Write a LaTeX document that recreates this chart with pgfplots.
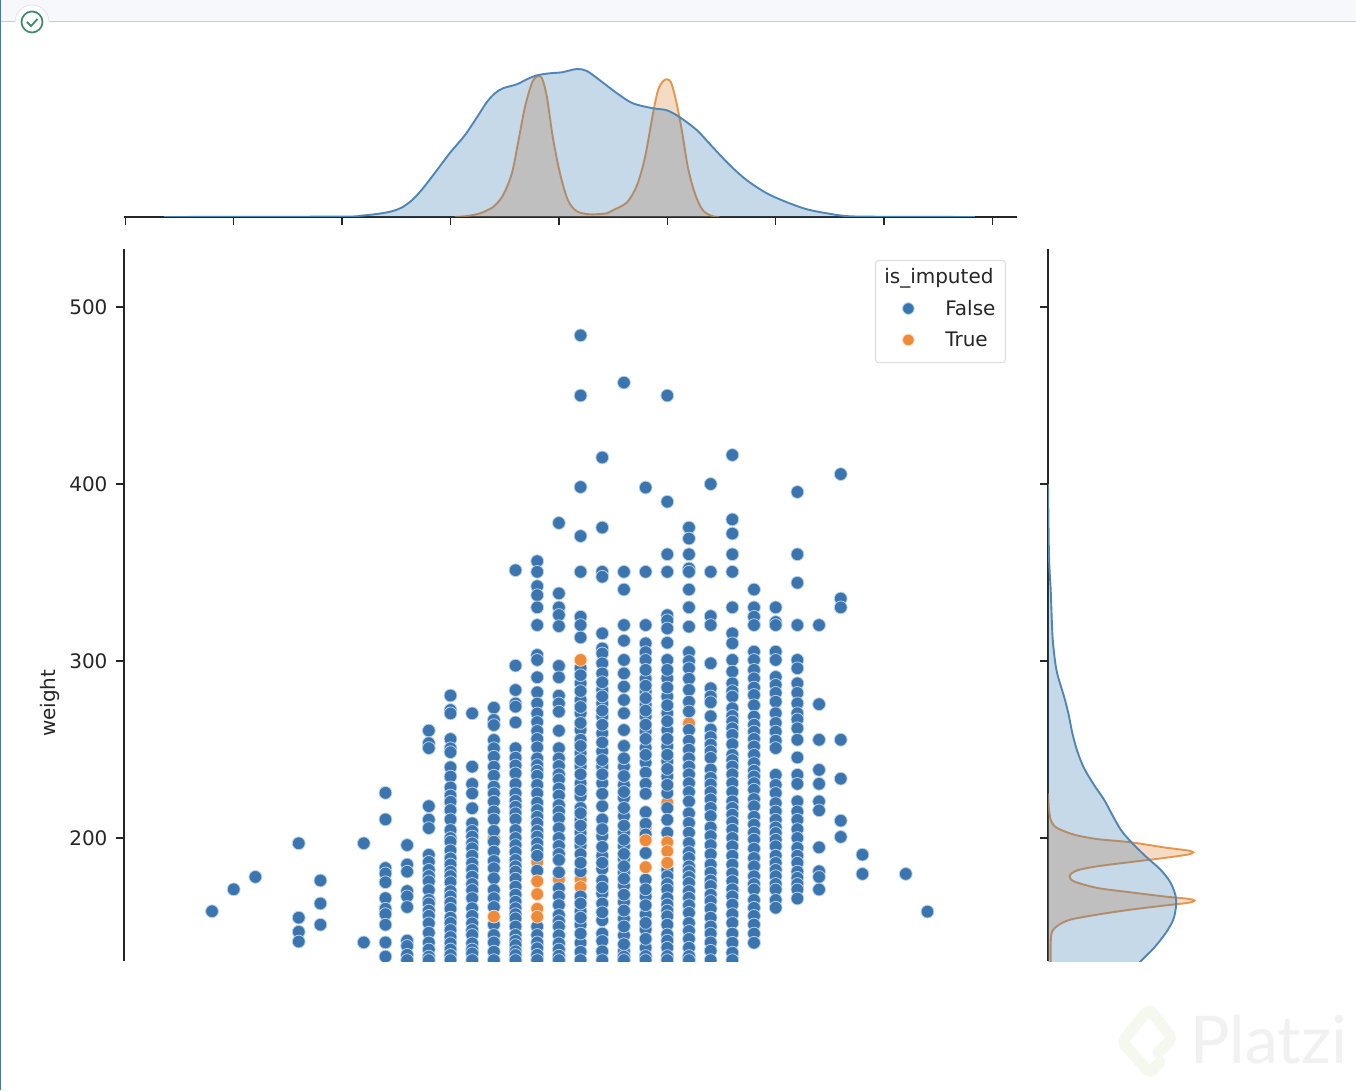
\documentclass[border=0pt]{standalone}
\usepackage{fontspec}
\setmainfont{DejaVu Sans}
\newfontfamily\wmfont{Lato}
\usepackage{pgfplots}
\pgfplotsset{compat=1.18}
\definecolor{ptblue}{HTML}{3A75B0}
\definecolor{ptorange}{HTML}{EE8A38}
\definecolor{halo}{HTML}{B9D1E8}
\definecolor{halor}{HTML}{FBDDC4}
\definecolor{kblue}{HTML}{2A74B0}
\definecolor{kbline}{HTML}{4F86B6}
\definecolor{korange}{HTML}{E1812C}
\definecolor{ink}{HTML}{262626}
\definecolor{barbg}{HTML}{F7F8FB}
\definecolor{barline}{HTML}{C8CBD6}
\definecolor{tabline}{HTML}{E0E3EA}
\definecolor{check}{HTML}{3F8A6D}
\definecolor{leftbar}{HTML}{3A7BBF}
\definecolor{wmgrey}{HTML}{F1F1F1}
\definecolor{wmgreen}{HTML}{F4F8EE}
\definecolor{legline}{HTML}{DEDEDE}
\pgfplotsset{
  base/.style={scale only axis, clip=true, major tick length=8pt,
    tick style={ink,line width=1.3pt},
    every tick label/.append style={font=\fontsize{20}{24}\selectfont, text=ink},
    /pgf/number format/assume math mode=true},
  plain lines/.style={tick align=outside, x axis line style={-,ink,line width=1.3pt}, y axis line style={-,ink,line width=1.3pt}},
  pblue/.style={only marks, mark=*, mark size=6.4, mark options={fill=ptblue, draw=halo, line width=0.8pt}},
  porange/.style={only marks, mark=*, mark size=6.4, mark options={fill=ptorange, draw=halor, line width=0.8pt}},
  kfillb/.style={fill=kblue, fill opacity=0.27, draw=none, smooth, tension=0.5, forget plot},
  kfillo/.style={fill=korange, fill opacity=0.28, draw=none, smooth, tension=0.5, forget plot},
  klineb/.style={draw=kbline, line width=1.9pt, smooth, tension=0.5, forget plot, no marks},
  klineo/.style={draw=korange, draw opacity=0.8, line width=1.9pt, smooth, tension=0.5, forget plot, no marks},
  legblue/.style={legend image code/.code={\path (-24.35pt,0pt) (34.35pt,0pt);
     \path[mark=*, mark size=5.8pt, mark options={fill=ptblue, draw=halo, line width=0.8pt}] plot coordinates {(0pt,0pt)};}},
  legorange/.style={legend image code/.code={\path (-24.35pt,0pt) (34.35pt,0pt) (0pt,-16pt);
     \path[mark=*, mark size=5.8pt, mark options={fill=ptorange, draw=halor, line width=0.8pt}] plot coordinates {(0pt,0pt)};}},
}
\begin{document}
\begin{tikzpicture}[x=1pt,y=1pt]
\path[use as bounding box, fill=white] (0,0) rectangle (1356,1090);
% window furniture
\fill[barbg] (0,1068) rectangle (1356,1090);
\draw[barline, line width=1pt] (0,1068) -- (1356,1068);
\fill[white] (15,1068) arc[start angle=180, end angle=0, radius=17] -- cycle;
\fill[white] (15,1068) rectangle (49,1060);
\draw[tabline, line width=0.8pt] (15,1068) arc[start angle=180, end angle=0, radius=17];
\draw[check, line width=1.7pt] (32,1068) circle[radius=10.5];
\draw[check, line width=1.8pt] (27,1068) -- (31,1064) -- (37.5,1071);
\fill[leftbar] (0,0) rectangle (1.3,1090);
% watermark
\draw[wmgreen, line width=11pt, rounded corners=5pt, line cap=round] (1158,37) -- (1172,52) -- (1149,81) -- (1122,48) -- (1150,17) -- (1160,28);
\node[anchor=base west, inner sep=0pt, text=wmgrey, font=\wmfont\fontsize{66}{72}\selectfont] at (1190,27) {Platzi};

% top marginal
\begin{axis}[base, at={(124pt,873pt)}, anchor=south west, width=893pt, height=160pt,
  xmin=49.94, xmax=91.13, ymin=0, ymax=0.08, axis x line=bottom, axis y line=none, plain lines,
  xtick={50,55,60,65,70,75,80,85,90}, xticklabels={}]
\addplot[kfillo] coordinates {(65.2,0)(65.76,0.0005)(66.36,0.00185)(66.96,0.005)(67.42,0.01085)(67.83,0.02185)(68.11,0.03685)(68.43,0.05485)(68.75,0.06685)(68.99,0.07035)(69.22,0.06935)(69.45,0.05985)(69.72,0.03985)(70.05,0.02185)(70.42,0.00835)(70.83,0.00285)(71.43,0.00135)(72.21,0.00185)(72.49,0.00335)(73.14,0.00735)(73.60,0.01585)(73.97,0.02985)(74.34,0.05185)(74.57,0.06335)(74.80,0.06785)(74.98,0.06885)(75.17,0.06735)(75.40,0.05835)(75.67,0.04335)(75.95,0.02485)(76.27,0.01185)(76.64,0.00335)(77.10,0.00035)(77.4,0)};
\addplot[klineo] coordinates {(65.2,0)(65.76,0.0005)(66.36,0.00185)(66.96,0.005)(67.42,0.01085)(67.83,0.02185)(68.11,0.03685)(68.43,0.05485)(68.75,0.06685)(68.99,0.07035)(69.22,0.06935)(69.45,0.05985)(69.72,0.03985)(70.05,0.02185)(70.42,0.00835)(70.83,0.00285)(71.43,0.00135)(72.21,0.00185)(72.49,0.00335)(73.14,0.00735)(73.60,0.01585)(73.97,0.02985)(74.34,0.05185)(74.57,0.06335)(74.80,0.06785)(74.98,0.06885)(75.17,0.06735)(75.40,0.05835)(75.67,0.04335)(75.95,0.02485)(76.27,0.01185)(76.64,0.00335)(77.10,0.00035)(77.4,0)};
\addplot[kfillb] coordinates {(51.78,0)(59.9,0.0002)(60.82,0.0006)(61.74,0.0017)(62.34,0.0030)(62.80,0.0050)(63.27,0.00885)(63.73,0.01435)(64.37,0.02335)(64.97,0.032)(65.66,0.04085)(66.22,0.04985)(66.68,0.0575)(67.05,0.06185)(67.42,0.06435)(68.06,0.06635)(68.52,0.06885)(68.99,0.07085)(69.58,0.07185)(70.14,0.07235)(70.83,0.074)(71.29,0.073)(71.89,0.06835)(72.68,0.06185)(73.41,0.05685)(74.34,0.05435)(74.98,0.05335)(75.58,0.04985)(76.37,0.04335)(77.10,0.03485)(77.89,0.02585)(78.67,0.01835)(79.59,0.01185)(80.52,0.00735)(81.44,0.00385)(82.36,0.00185)(83.42,0.00035)(85.73,0.0001)(89.19,0)};
\addplot[klineb] coordinates {(51.78,0)(59.9,0.0002)(60.82,0.0006)(61.74,0.0017)(62.34,0.0030)(62.80,0.0050)(63.27,0.00885)(63.73,0.01435)(64.37,0.02335)(64.97,0.032)(65.66,0.04085)(66.22,0.04985)(66.68,0.0575)(67.05,0.06185)(67.42,0.06435)(68.06,0.06635)(68.52,0.06885)(68.99,0.07085)(69.58,0.07185)(70.14,0.07235)(70.83,0.074)(71.29,0.073)(71.89,0.06835)(72.68,0.06185)(73.41,0.05685)(74.34,0.05435)(74.98,0.05335)(75.58,0.04985)(76.37,0.04335)(77.10,0.03485)(77.89,0.02585)(78.67,0.01835)(79.59,0.01185)(80.52,0.00735)(81.44,0.00385)(82.36,0.00185)(83.42,0.00035)(85.73,0.0001)(89.19,0)};
\end{axis}

% right marginal
\begin{axis}[base, at={(1048pt,129pt)}, anchor=south west, width=190pt, height=712pt,
  xmin=0, xmax=0.019, ymin=130.5, ymax=532.8, axis x line=none, axis y line=left, plain lines,
  ytick={200,300,400,500}, yticklabels={}]
\addplot[kfillo] coordinates {(0,225)(0.0001,216)(0.00033,209.4)(0.00093,205.6)(0.0026,201.9)(0.00493,199.4)(0.00827,197.6)(0.0116,194.7)(0.01393,193)(0.01453,191.9)(0.01393,190.6)(0.0116,188.7)(0.00827,186.4)(0.00493,184)(0.00293,181.7)(0.00217,178.7)(0.0026,175.5)(0.00493,171.8)(0.00827,169.3)(0.0116,167)(0.01393,165.7)(0.01467,164.6)(0.01393,163.3)(0.0116,161.8)(0.00827,159.5)(0.00493,156.7)(0.00227,153.9)(0.0011,151)(0.00043,147.3)(0.00027,140.7)(0.00027,125)(0,125)};
\addplot[klineo] coordinates {(0,225)(0.0001,216)(0.00033,209.4)(0.00093,205.6)(0.0026,201.9)(0.00493,199.4)(0.00827,197.6)(0.0116,194.7)(0.01393,193)(0.01453,191.9)(0.01393,190.6)(0.0116,188.7)(0.00827,186.4)(0.00493,184)(0.00293,181.7)(0.00217,178.7)(0.0026,175.5)(0.00493,171.8)(0.00827,169.3)(0.0116,167)(0.01393,165.7)(0.01467,164.6)(0.01393,163.3)(0.0116,161.8)(0.00827,159.5)(0.00493,156.7)(0.00227,153.9)(0.0011,151)(0.00043,147.3)(0.00027,140.7)(0.00027,125)};
\addplot[kfillb] coordinates {(0,400)(0.0001,359)(0.00027,340)(0.00043,316)(0.0006,304.7)(0.0009,293.4)(0.0017,278)(0.0021,268.7)(0.00243,259.3)(0.00293,249)(0.0036,239.5)(0.0046,230)(0.0056,221.7)(0.00643,213)(0.00727,204.7)(0.00827,198)(0.00977,189.6)(0.01127,182)(0.01227,174.6)(0.01277,167)(0.0128,161.4)(0.01253,153.9)(0.01177,146.3)(0.0106,137.9)(0.00943,131.3)(0.00827,124.7)(0,124.7)};
\addplot[klineb] coordinates {(0,400)(0.0001,359)(0.00027,340)(0.00043,316)(0.0006,304.7)(0.0009,293.4)(0.0017,278)(0.0021,268.7)(0.00243,259.3)(0.00293,249)(0.0036,239.5)(0.0046,230)(0.0056,221.7)(0.00643,213)(0.00727,204.7)(0.00827,198)(0.00977,189.6)(0.01127,182)(0.01227,174.6)(0.01277,167)(0.0128,161.4)(0.01253,153.9)(0.01177,146.3)(0.0106,137.9)(0.00943,131.3)(0.00827,124.7)};
\end{axis}

% joint scatter
\begin{axis}[base, at={(124pt,129pt)}, anchor=south west, width=893pt, height=712pt,
  xmin=49.94, xmax=91.13, ymin=130.5, ymax=532.8, axis x line=none, axis y line=left, plain lines,
  clip marker paths=true,
  ytick={200,300,400,500}, yticklabel style={xshift=-5pt},
  ylabel={weight}, ylabel style={font=\fontsize{20}{24}\selectfont, text=ink, at={(axis description cs:-0.0,0.362)}, anchor=south, yshift=61pt},
  legend cell align=left,
  legend style={at={(0.9877,0.9846)}, anchor=north east, draw=legline, line width=1.1pt, rounded corners=3pt,
    font=\fontsize{20}{24}\selectfont, text=ink, row sep=11pt, inner xsep=8pt, inner ysep=6pt},
]
% imputed points that lie under the others
\addplot[porange, forget plot] coordinates {(69,186.3)(70,176.5)(71,176.5)(71,172.2)(74,205.6)(75,220)(76,264.8)(67,200)(70,218)};
\addplot[pblue, forget plot] coordinates {
(54,158.6)(55,171)(56,178)
(58,197)(58,155)(58,147)(58,141.5)
(59,176)(59,163)(59,151)
(61,197)(61,141)
(62,225.5)(62,210.5)(62,183)(62,180)(62,175)(62,166)(62,160)(62,157)(62,151)(62,141)(62,133)
(63,196)(63,185)(63,181)(63,170)(63,167)(63,161)(63,142)(63,139)(63,134)(63,131)
(64,260.7)(64,253.6)(64,250.8)(64,218)(64,210.4)(64,205.6)(64,190.5)(64,186.5)(64,182)(64,178.5)(64,175.5)(64,170.6)(64,165)(64,163)(64,159)(64,156)(64,151.8)(64,146.5)(64,141)(64,137)(64,133)(64,131)
(65,280.5)(65,272.3)(65,270.4)(65,255.9)(65,250.7)(65,248.5)(65,240)(65,234.7)(65,228.6)(65,224)(65,220.5)(65,215.8)(65,210.5)(65,204.5)(65,200)(65,197.9)(65,193)(65,188.5)(65,185)(65,181)(65,178.5)(65,175)(65,170)(65,167)(65,163.5)(65,160)(65,155)(65,152)(65,148)(65,144)(65,140.5)(65,137)(65,133.9)(65,131)
(66,270.4)(66,240.3)(66,230.5)(66,225.2)(66,216.8)(66,208.3)(66,204)(66,200.8)(66,197)(66,194.2)(66,190)(66,185.7)(66,182)(66,178.2)(66,174)(66,170.6)(66,166)(66,160.3)(66,156)(66,151.8)(66,148)(66,145.2)(66,140.5)(66,137)(66,134.8)(66,131)
(67,273.6)(67,266.7)(67,263.8)(67,255.4)(67,250.7)(67,245.9)(67,240.3)(67,235.2)(67,229)(67,225.2)(67,220.5)(67,215)(67,210.5)(67,204)(67,197.9)(67,192.3)(67,187)(67,182.9)(67,177.2)(67,170.6)(67,166)(67,161)(67,151)(67,145.2)(67,141)(67,135.8)(67,131)
(68,351.3)(68,297.4)(68,283.6)(68,276)(68,274.2)(68,265.3)(68,250.7)(68,245.4)(68,241)(68,236.5)(68,230.5)(68,225.2)(68,221)(68,217.7)(68,214)(68,210.5)(68,204.5)(68,200)(68,196)(68,192)(68,187.6)(68,184)(68,181)(68,177)(68,172.5)(68,168)(68,164)(68,160.3)(68,157)(68,154.6)(68,150)(68,145.2)(68,142)(68,139.5)(68,136)(68,133.9)(68,131)
(69,356.4)(69,350.4)(69,342.3)(69,337.2)(69,330.3)(69,320.3)(69,303.4)(69,300.6)(69,290.8)(69,282.3)(69,276)(69,270.4)(69,265.5)(69,260.5)(69,256)(69,251.2)(69,245)(69,241.2)(69,238)(69,235.2)(69,230)(69,225.2)(69,220)(69,215.8)(69,212)(69,208.3)(69,204)(69,200.8)(69,197)(69,193.2)(69,190)(69,181.5)(69,150)(69,145.2)(69,141)(69,137.7)(69,134)(69,131)
(70,378)(70,338.2)(70,330.3)(70,326)(70,319.7)(70,297.2)(70,290.8)(70,280.4)(70,276)(70,271.4)(70,260.6)(70,250.7)(70,245)(70,240.7)(70,236)(70,233.1)(70,228)(70,224)(70,218.6)(70,215)(70,211.1)(70,205.5)(70,200)(70,195.5)(70,191)(70,187.6)(70,180.6)(70,171.6)(70,167)(70,162.1)(70,156.5)(70,153)(70,149.9)(70,145)(70,140.5)(70,137)(70,133.5)(70,131)
(71,484)(71,450)(71,398.3)(71,370.6)(71,350.4)(71,325)(71,320.3)(71,313.3)(71,296)(71,287.4)(71,278)(71,270.5)(71,261)(71,255.5)(71,247.9)(71,240.4)(71,231)(71,223.5)(71,217)(71,210.3)(71,203)(71,195.6)(71,190.9)(71,181.2)(71,167)(71,158.6)(71,151)(71,140.8)(71,135.7)(71,292)(71,283)(71,274)(71,265)(71,252)(71,244)(71,236)(71,227)(71,214)(71,207)(71,199)(71,186)(71,163)(71,155)(71,146)(71,131)
(72,415)(72,375.4)(72,350.4)(72,347.6)(72,315.6)(72,307.1)(72,304.3)(72,298.7)(72,293)(72,283.6)(72,276)(72,268.6)(72,259.2)(72,248.9)(72,240.4)(72,231)(72,218)(72,210.5)(72,201)(72,190)(72,182.5)(72,176)(72,168.6)(72,163)(72,153.5)(72,146)(72,141.8)(72,254)(72,244)(72,236)(72,225)(72,205)(72,195)(72,186)(72,172)(72,158)(72,136)(72,288)(72,280)(72,272)(72,264)(72,131)
(73,457.3)(73,350.4)(73,340.4)(73,320.3)(73,311.5)(73,300.6)(73,293)(73,285.5)(73,278)(73,270.5)(73,261)(73,252)(73,240.4)(73,230)(73,222.7)(73,212.4)(73,203)(73,195.3)(73,188)(73,180.4)(73,173)(73,163.8)(73,154.5)(73,145)(73,136)(73,245)(73,226)(73,217)(73,207)(73,199)(73,191)(73,184)(73,177)(73,168)(73,159)(73,150)(73,140)(73,235)(73,133)(73,131)
(74,398)(74,350.4)(74,320.3)(74,310)(74,305)(74,300.6)(74,290)(74,282.8)(74,275.3)(74,268.7)(74,260.3)(74,251)(74,242.6)(74,236.9)(74,230.6)(74,225)(74,214.6)(74,208)(74,202)(74,191.5)(74,176.5)(74,167)(74,156.8)(74,148.3)(74,138)(74,133.3)(74,295)(74,286)(74,279)(74,272)(74,264)(74,256)(74,247)(74,171)(74,162)(74,152)(74,143)(74,131)
(75,450)(75,390)(75,360.3)(75,350.4)(75,325.9)(75,323)(75,318.4)(75,310.3)(75,300.6)(75,290.2)(75,280)(75,270.5)(75,261)(75,251.7)(75,243.3)(75,234.8)(75,225.4)(75,216.9)(75,210.3)(75,203)(75,182)(75,178.4)(75,174)(75,170.9)(75,166)(75,162.4)(75,159)(75,155.8)(75,151)(75,145.5)(75,142)(75,138)(75,133.3)(75,295)(75,285)(75,275)(75,266)(75,256)(75,247)(75,239)(75,230)(75,131)
(76,375.4)(76,369.2)(76,360.3)(76,352.3)(76,350.4)(76,340.4)(76,330.3)(76,319.4)(76,305)(76,300)(76,295.9)(76,290)(76,283.7)(76,277)(76,271.5)(76,261.1)(76,255)(76,249.9)(76,245)(76,240.4)(76,236)(76,231)(76,226)(76,220.7)(76,214)(76,208.5)(76,203)(76,197.2)(76,192)(76,188.7)(76,184)(76,181.2)(76,178)(76,174.6)(76,170)(76,166.2)(76,162)(76,157.7)(76,152)(76,147.5)(76,143)(76,138)(76,133.3)(76,131)
(77,400)(77,350.4)(77,325.4)(77,320.3)(77,298.7)(77,284.6)(77,280)(77,276.7)(77,268.8)(77,261.3)(77,257)(77,252.8)(77,249)(77,245.3)(77,238.7)(77,234)(77,230.3)(77,226)(77,221.8)(77,217)(77,212.4)(77,206)(77,201.1)(77,196)(77,190.8)(77,185)(77,180.4)(77,176)(77,172.9)(77,168)(77,164.4)(77,160)(77,155)(77,150)(77,146)(77,141)(77,136.3)(77,131)
(78,416.4)(78,380)(78,372)(78,360.3)(78,350.4)(78,330.3)(78,315.6)(78,310)(78,300.6)(78,294)(78,287.4)(78,283)(78,279.9)(78,273.3)(78,269)(78,265.8)(78,262)(78,258.3)(78,253)(78,247)(78,244)(78,240.4)(78,236)(78,231)(78,226)(78,220.7)(78,217)(78,213.2)(78,209)(78,204.7)(78,200)(78,195.3)(78,190)(78,185)(78,180)(78,175.6)(78,171)(78,167)(78,162.4)(78,157)(78,152)(78,146)(78,140.8)(78,135.2)(78,131)
(79,340.4)(79,330.3)(79,325)(79,320.3)(79,305.3)(79,300.6)(79,295)(79,290.2)(79,285)(79,280.8)(79,275)(79,268.6)(79,264)(79,260.1)(79,256)(79,251.7)(79,247)(79,242.3)(79,238)(79,234.8)(79,231)(79,227.3)(79,222)(79,217.9)(79,212)(79,207.6)(79,203)(79,199.1)(79,194)(79,188.7)(79,184)(79,178.4)(79,174)(79,170.9)(79,165)(79,160.6)(79,156)(79,151.1)(79,146)(79,140.8)
(80,330.3)(80,322)(80,320.3)(80,305.3)(80,300.6)(80,291)(80,286.5)(80,282)(80,277)(80,270.5)(80,265)(80,260.1)(80,255)(80,250.8)(80,235.7)(80,230)(80,225.4)(80,219.7)(80,215)(80,210.3)(80,206)(80,202.8)(80,199)(80,195.3)(80,190)(80,185.9)(80,182)(80,178.4)(80,174)(80,170.9)(80,165)(80,160.6)
(81,395.5)(81,360.3)(81,344.2)(81,320.3)(81,300.6)(81,295.9)(81,287.4)(81,282)(81,276.1)(81,270.5)(81,267)(81,262)(81,255.5)(81,245.5)(81,235.7)(81,230.6)(81,220.7)(81,215)(81,210.3)(81,205)(81,200)(81,194.4)(81,190)(81,186)(81,181)(81,177.5)(81,174)(81,170.9)(81,165.8)
(82,320.3)(82,275.6)(82,255.5)(82,238.5)(82,230.6)(82,220.7)(82,215.6)(82,194.7)(82,181.2)(82,178)(82,170.9)
(83,405.6)(83,335.3)(83,330.3)(83,255.5)(83,233.5)(83,209.8)(83,200.6)
(84,190.6)(84,179.7)(86,179.7)(87,158.4)
};
% imputed points on top
\addplot[porange, forget plot] coordinates {(67,155.6)(69,175.6)(69,168.3)(69,160)(69,155.5)(71,300.6)(74,198.7)(74,183.5)(75,197.6)(75,192.5)(75,186)};
\addlegendimage{empty legend}
\addlegendentry{\hspace*{-61pt}is\_imputed}
\addlegendimage{legblue}
\addlegendentry{False}
\addlegendimage{legorange}
\addlegendentry{True}
\end{axis}
\end{tikzpicture}
\end{document}
